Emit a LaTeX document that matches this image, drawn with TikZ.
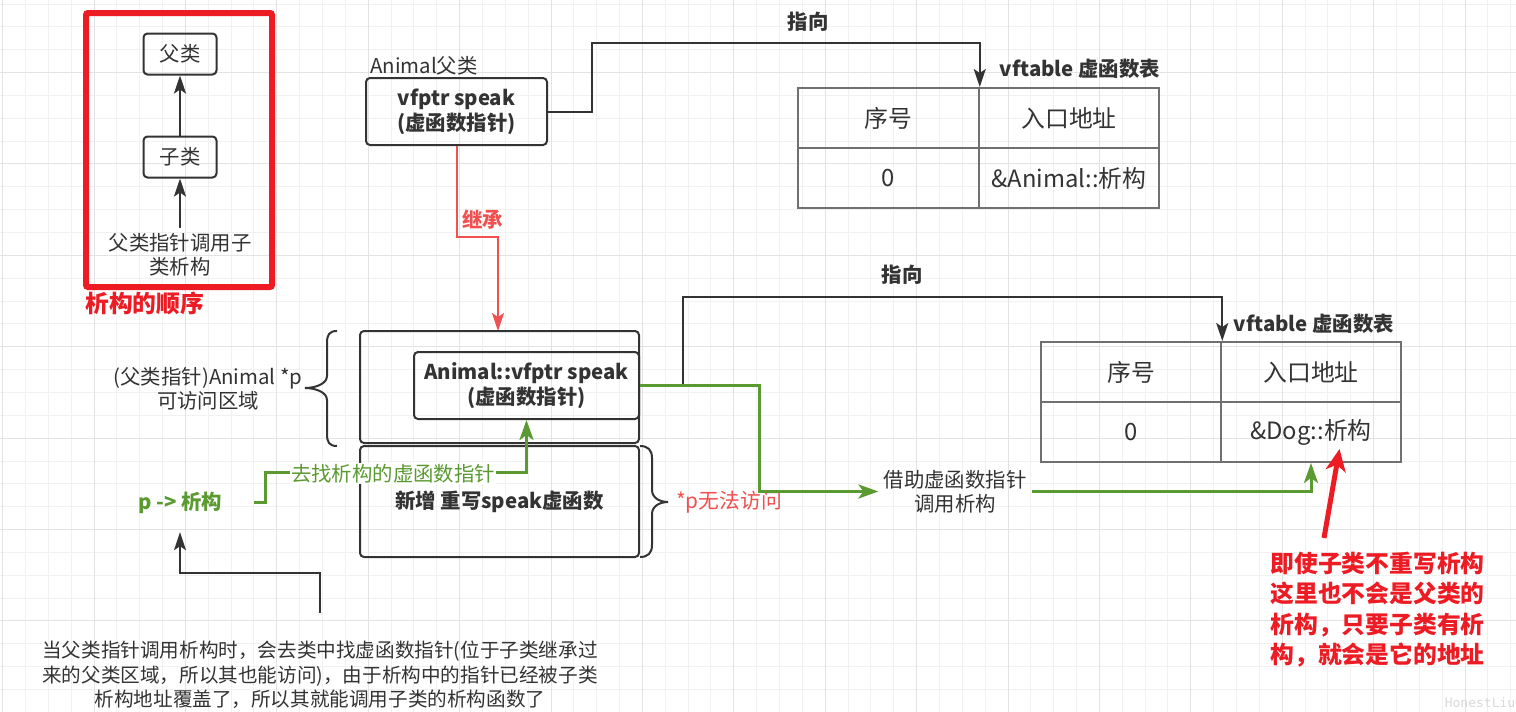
\documentclass[tikz,border=0pt]{standalone}
\usepackage{fontspec}
\setmainfont{Noto Sans CJK SC}
\newfontfamily\wmfont{DejaVu Sans Mono}
\usetikzlibrary{arrows.meta}
\definecolor{dark}{HTML}{333333}
\definecolor{tline}{HTML}{707070}
\definecolor{vred}{HTML}{ED1C24}
\definecolor{sred}{HTML}{F05050}
\definecolor{dgreen}{HTML}{5A9A30}
\definecolor{gminor}{HTML}{F1F1F1}
\definecolor{gmajor}{HTML}{E3E3E3}
\begin{document}
\begin{tikzpicture}[x=1pt,y=-1pt,
  txt/.style={font=\fontsize{20.4}{24}\selectfont, text=dark, align=center, inner sep=2},
  btxt/.style={font=\fontsize{20.4}{25}\selectfont\bfseries, text=dark, align=center, inner sep=2},
  cell/.style={draw=tline, line width=2, minimum width=180.5, minimum height=60, font=\fontsize{23.8}{28}\selectfont, text=dark, inner sep=0},
  rbox/.style={draw=dark, line width=2, rounded corners=4, align=center, inner sep=0},
  conn/.style={draw=dark, line width=2, -{Stealth[length=18, width=12, inset=4]}},
  gconn/.style={draw=dgreen, line width=3, -{Stealth[length=20, width=14, inset=5]}},
  inh/.style={draw=sred, line width=2, -{Stealth[length=18, width=12, inset=4]}},
  bigred/.style={font=\fontsize{23.8}{30.5}\selectfont\bfseries, text=vred, align=center, inner sep=0}
]
\useasboundingbox (0,0) rectangle (1516,712);
\fill[white] (0,0) rectangle (1516,712);
% grid
\foreach \k in {0,...,66} \draw[gminor, line width=1] ({2.6+22.85*\k},0) -- ++(0,712);
\foreach \k in {0,...,31} \draw[gminor, line width=1] (0,{4+22.85*\k}) -- ++(1516,0);
\foreach \k in {0,4,...,64} \draw[gmajor, line width=1] ({2.6+22.85*\k},0) -- ++(0,712);
\foreach \k in {3,7,...,31} \draw[gmajor, line width=1] (0,{4+22.85*\k}) -- ++(1516,0);

% ---------- left: order of destruction ----------
\node[draw=vred, line width=6, rounded corners=2, minimum width=186, minimum height=274, inner sep=0] (redframe) at (179,150) {};
\node[rbox, txt, minimum width=73, minimum height=41] (fu) at (180,54) {父类};
\node[rbox, txt, minimum width=73, minimum height=41] (zi) at (180,157) {子类};
\node[txt, minimum height=54] (order) at (180,255) {父类指针调用子\\类析构};
\draw[conn, line width=2.5] (zi.north) -- (fu.south);
\draw[conn, line width=2.5] (order.north) -- (zi.south);
\node[bigred, anchor=west] (ordertitle) at (85,303) {析构的顺序};

% ---------- Animal parent ----------
\node[txt, anchor=west] (animallbl) at (368,66) {Animal父类};
\node[rbox, btxt, minimum width=181, minimum height=67] (vfptr) at (456.5,111.5) {vfptr speak\\(虚函数指针)};

% table 1
\node[cell] (t1h1) at (888.5,118) {序号};
\node[cell] (t1h2) at (1069,118) {入口地址};
\node[cell] (t1r1) at (888.5,178) {0};
\node[cell] (t1r2) at (1069,178) {\&Animal::析构};
\node[btxt] (t1title) at (1080,69) {vftable 虚函数表};

\coordinate (c1) at (592,43);
\draw[conn] (vfptr.east) -| (c1) -| (t1h1.north east);
\node[btxt] (point1) at (808,22) {指向};

% inherit
\coordinate (i1) at (498,237);
\draw[inh] (vfptr.south) |- (i1) -- (i1 |- 0,331);
\node[btxt, text=sred] (inhlbl) at (482.5,220) {继承};

% ---------- Dog object ----------
\node[rbox, minimum width=279, minimum height=112] (outer1) at (499.5,387) {};
\node[rbox, btxt, minimum width=225, minimum height=67] (inner) at (526.5,385.5) {Animal::vfptr speak\\(虚函数指针)};
\node[rbox, btxt, minimum width=279, minimum height=111] (box2) at (499.5,501.5) {新增 重写speak虚函数};

% braces
\draw[dark, line width=2] (337,331) .. controls (329,331) and (327,335) .. (327,343) -- (327,376)
  .. controls (327,384) and (315,388) .. (305,388) .. controls (315,388) and (327,392) .. (327,400)
  -- (327,434) .. controls (327,442) and (329,446) .. (337,446);
\node[txt] (access) at (208,389) {(父类指针)Animal *p\\可访问区域};
\draw[dark, line width=2] (640,446) .. controls (648,446) and (652,450) .. (652,458) -- (652,490)
  .. controls (652,498) and (660,502) .. (668,502) .. controls (660,502) and (652,506) .. (652,514)
  -- (652,545) .. controls (652,553) and (648,557) .. (640,557);
\node[txt, text=sred, font=\fontsize{20.8}{24}\selectfont] (noaccess) at (729,502) {*p无法访问};

% table 2
\node[cell] (t2h1) at (1131,372) {序号};
\node[cell] (t2h2) at (1311,372) {入口地址};
\node[cell] (t2r1) at (1131,432) {0};
\node[cell] (t2r2) at (1311,432) {\&Dog::析构};
\node[btxt] (t2title) at (1314,324) {vftable 虚函数表};

\coordinate (c2) at (683,297);
\draw[conn] (inner.east) -| (c2) -| (t2h1.north east);
\node[btxt] (point2) at (902,275) {指向};

% call text and green connectors
\node[txt, inner xsep=5] (call) at (955,491.5) {借助虚函数指针\\调用析构};
\coordinate (g2) at (759,491.5);
\draw[gconn] (inner.east) -| (g2) -- (call.west);
\draw[gconn] (call.east) -| (t2r2.south);

\node[btxt, text=dgreen, minimum width=148, minimum height=58.6] (ptext) at (180,502.7) {p -> 析构};
\coordinate (g1) at (265,472);
\draw[gconn] (ptext.east) -| (g1) -| (inner.south);
\node[txt, text=dgreen, fill=white, inner sep=1] (findlbl) at (393,473.5) {去找析构的虚函数指针};

% bottom explanation
\node[txt, font=\fontsize{19.6}{24.5}\selectfont, minimum height=124] (bottom) at (320,675) {当父类指针调用析构时，会去类中找虚函数指针(位于子类继承过\\来的父类区域，所以其也能访问)，由于析构中的指针已经被子类\\析构地址覆盖了，所以其就能调用子类的析构函数了};
\coordinate (b1) at (320,573);
\draw[conn] (bottom.north) -- (b1) -| (ptext.south);

% red note
\node[bigred, text width=220] (note) at (1377.5,609.5) {即使子类不重写析构\\这里也不会是父类的\\析构，只要子类有析\\构，就会是它的地址};
\coordinate (ra) at (1324,538);
\coordinate (rb) at (1339.5,449);
\draw[vred, line width=5, -{Stealth[length=22, width=20, inset=6]}] (ra) -- (rb);

% watermark
\node[text=gray!30, font=\wmfont\fontsize{13}{15}\selectfont, inner sep=0] (wm) at (1480,703) {HonestLiu};
\end{tikzpicture}
\end{document}
